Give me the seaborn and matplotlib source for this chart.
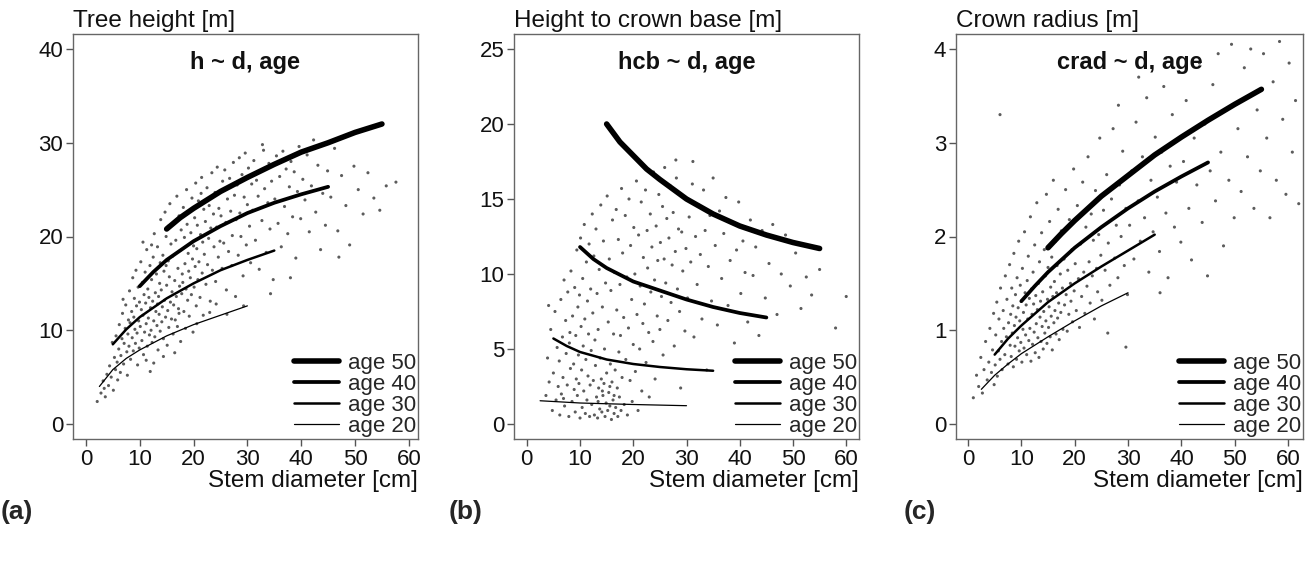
import matplotlib
matplotlib.use('Agg')
import pandas as pd
import matplotlib.pyplot as plt
import seaborn as sns

# Scatter clouds, (diameter, value) pairs
height_pts = [
    (2.1, 2.4), (2.8, 3.3), (3.2, 4.6), (3.6, 2.9), (3.9, 5.3), (3.4, 3.8),
    (4.2, 4.1), (4.4, 6.2), (4.7, 5.0), (4.9, 8.7), (5.1, 3.6), (5.3, 7.1), (5.5, 5.8), (5.6, 9.4), (5.8, 6.6), (5.9, 4.7),
    (6.1, 8.0), (6.2, 10.6), (6.4, 5.5), (6.5, 7.3), (6.7, 9.1), (6.8, 11.8), (7.0, 6.4), (7.1, 8.6), (7.3, 10.2),
    (7.4, 12.7), (7.6, 7.7), (7.7, 5.2), (7.8, 9.6), (7.9, 11.1), (6.9, 13.3),
    (8.0, 8.3), (8.1, 14.2), (8.2, 10.8), (8.3, 6.9), (8.5, 12.0), (8.6, 9.2), (8.7, 15.6), (8.8, 7.8), (8.9, 11.4),
    (9.0, 13.4), (9.1, 10.1), (9.2, 8.6), (9.3, 16.4), (9.4, 12.6), (9.5, 9.7), (9.6, 6.3), (9.7, 14.6), (9.8, 11.0),
    (9.9, 8.1), (9.95, 13.0),
    (10.1, 10.4), (10.2, 17.3), (10.3, 12.2), (10.4, 8.9), (10.5, 15.1), (10.6, 11.6), (10.7, 7.4), (10.8, 13.8),
    (10.9, 9.8), (11.0, 16.2), (11.1, 12.9), (11.2, 10.7), (11.3, 18.6), (11.4, 8.3), (11.5, 14.4), (11.6, 11.3),
    (11.7, 13.5), (11.8, 9.5), (11.9, 16.9), (11.95, 5.6), (10.6, 19.4), (11.2, 6.8),
    (12.0, 12.4), (12.1, 10.0), (12.2, 15.4), (12.3, 8.7), (12.4, 13.1), (12.5, 17.8), (12.6, 11.0), (12.7, 20.3),
    (12.8, 9.3), (12.9, 14.0), (13.0, 12.0), (13.1, 16.0), (13.2, 10.5), (13.3, 18.9), (13.4, 7.9), (13.5, 13.6),
    (13.6, 11.7), (13.7, 15.0), (13.8, 9.9), (13.9, 21.8), (13.3, 12.8), (12.6, 6.5), (13.8, 17.2), (12.2, 19.1),
    (14.0, 14.3), (14.1, 10.9), (14.2, 12.5), (14.3, 18.0), (14.4, 9.1), (14.5, 16.3), (14.6, 13.2), (14.7, 22.6),
    (14.8, 11.4), (14.9, 20.0), (15.0, 14.8), (15.1, 8.4), (15.2, 12.1), (15.3, 17.4), (15.4, 10.3), (15.5, 15.7),
    (15.6, 23.5), (15.7, 13.0), (15.8, 19.2), (15.9, 11.2), (14.4, 7.2), (15.3, 21.1), (14.9, 16.9),
    (16.0, 14.1), (16.1, 17.9), (16.2, 9.6), (16.3, 12.7), (16.4, 21.4), (16.5, 15.3), (16.6, 11.1), (16.7, 19.6),
    (16.8, 13.6), (16.9, 24.3), (17.0, 10.4), (17.1, 16.6), (17.2, 12.3), (17.3, 22.2), (17.4, 14.7), (17.5, 18.5),
    (17.6, 8.8), (17.7, 20.7), (17.8, 13.9), (17.9, 16.0), (16.5, 7.6), (17.3, 11.8),
    (18.0, 15.1), (18.1, 23.1), (18.2, 12.0), (18.3, 19.9), (18.4, 17.1), (18.5, 10.2), (18.6, 14.4), (18.7, 25.0),
    (18.8, 21.3), (18.9, 13.2), (19.0, 18.2), (19.1, 16.3), (19.2, 11.5), (19.3, 22.8), (19.4, 15.6), (19.5, 20.4),
    (19.6, 13.8), (19.7, 24.1), (19.8, 17.6), (19.9, 9.8),
    (20.0, 19.0), (20.1, 14.6), (20.2, 22.0), (20.3, 16.8), (20.4, 25.7), (20.5, 12.6), (20.6, 18.7), (20.7, 21.2),
    (20.8, 15.4), (20.9, 23.8), (21.0, 17.3), (21.2, 13.5), (21.3, 20.2), (21.5, 26.3), (21.6, 16.1), (21.7, 19.4),
    (21.8, 11.6), (21.9, 22.9), (21.4, 24.6), (20.6, 10.7),
    (22.0, 18.1), (22.2, 21.6), (22.3, 14.9), (22.5, 25.2), (22.6, 17.0), (22.8, 19.8), (22.9, 23.3), (23.1, 13.1),
    (23.2, 20.9), (23.4, 26.8), (23.5, 16.4), (23.7, 22.4), (23.8, 18.9), (24.0, 24.7), (24.1, 15.2), (24.3, 21.0),
    (24.4, 27.4), (24.6, 17.8), (24.7, 23.0), (24.9, 19.5), (23.0, 11.9), (24.2, 12.8),
    (25.1, 22.2), (25.3, 16.6), (25.4, 25.9), (25.6, 19.3), (25.8, 27.1), (26.0, 21.5), (26.1, 14.3), (26.3, 24.0),
    (26.5, 18.4), (26.7, 26.2), (26.9, 22.7), (27.1, 16.9), (27.2, 20.1), (27.4, 27.9), (27.6, 24.4), (27.8, 13.6),
    (27.9, 21.8), (26.2, 11.7),
    (28.1, 25.5), (28.3, 18.0), (28.5, 28.4), (28.6, 22.5), (28.8, 20.0), (29.0, 26.6), (29.2, 15.8), (29.4, 24.2),
    (29.6, 28.9), (29.8, 19.1), (30.0, 23.4), (30.2, 27.3), (30.4, 21.1), (30.6, 17.2), (30.8, 25.6), (29.3, 12.6),
    (31.0, 22.8), (31.2, 28.1), (31.5, 19.6), (31.7, 26.0), (32.0, 24.3), (32.2, 16.5), (32.5, 27.0), (32.7, 21.7),
    (33.0, 29.2), (33.2, 25.1), (33.5, 18.3), (33.8, 23.6), (34.0, 27.8), (34.2, 20.8), (34.5, 25.9), (34.8, 15.4),
    (32.8, 29.8), (34.3, 13.9),
    (35.1, 24.0), (35.4, 28.6), (35.7, 21.4), (36.0, 26.4), (36.3, 18.9), (36.6, 29.1), (36.9, 23.2), (37.2, 27.2),
    (37.5, 20.3), (37.8, 25.3), (38.1, 28.0), (38.4, 22.1), (38.7, 26.9), (39.0, 17.7), (39.3, 24.8), (39.6, 29.6),
    (39.9, 21.9), (38.0, 15.6),
    (40.3, 26.1), (40.7, 23.9), (41.1, 28.7), (41.5, 20.5), (41.9, 25.4), (42.3, 30.3), (42.7, 22.6), (43.1, 27.6),
    (43.6, 18.6), (44.0, 24.6), (44.5, 21.2), (44.9, 27.0),
    (45.5, 24.2), (46.2, 29.4), (46.8, 20.6), (47.5, 26.5), (48.3, 23.3), (49.0, 19.1), (49.8, 27.5), (50.6, 25.0),
    (51.5, 22.4), (52.4, 26.8), (53.5, 24.1), (54.6, 22.8), (55.8, 25.4), (57.6, 25.8), (47.0, 17.8),
]

hcb_pts = [
    (3.6, 1.9), (3.9, 4.4), (4.2, 2.8), (4.5, 6.3), (4.8, 0.9), (5.0, 3.4), (5.3, 7.5), (5.5, 1.6), (5.7, 5.1),
    (5.9, 2.5), (4.1, 7.9),
    (6.1, 4.2), (6.2, 0.6), (6.4, 8.3), (6.5, 2.0), (6.7, 5.8), (6.8, 3.1), (7.0, 9.6), (7.1, 1.2), (7.3, 6.9),
    (7.4, 4.7), (7.6, 2.6), (7.7, 8.8), (7.9, 0.5), (8.0, 5.4), (8.2, 3.7), (8.3, 10.2), (8.5, 1.5), (8.6, 7.2),
    (8.8, 4.0), (8.9, 2.3), (6.9, 1.7), (8.1, 6.1),
    (9.0, 9.1), (9.1, 0.8), (9.2, 5.9), (9.3, 3.0), (9.4, 11.6), (9.5, 1.9), (9.6, 7.8), (9.7, 4.6), (9.8, 2.7),
    (9.9, 8.6), (10.0, 0.4), (10.1, 12.4), (10.2, 6.5), (10.3, 3.6), (10.4, 1.1), (10.5, 9.7), (10.6, 5.2),
    (10.7, 2.2), (10.8, 13.3), (10.9, 7.0), (11.0, 0.7), (11.1, 4.3), (11.2, 10.8), (11.3, 1.6), (11.4, 8.2),
    (11.5, 3.2), (11.6, 6.0), (11.7, 12.0), (11.8, 0.5), (11.9, 2.6),
    (12.0, 9.0), (12.1, 4.9), (12.2, 1.3), (12.3, 14.0), (12.4, 7.4), (12.5, 2.9), (12.6, 11.2), (12.7, 0.6),
    (12.8, 5.6), (12.9, 3.9), (13.0, 13.0), (13.1, 1.8), (13.2, 8.7), (13.3, 0.4), (13.4, 6.3), (13.5, 2.4),
    (13.6, 10.3), (13.7, 1.0), (13.8, 4.4), (13.9, 14.6), (14.0, 3.0), (14.1, 0.8), (14.2, 7.8), (14.3, 1.9),
    (14.4, 12.2), (14.5, 2.7), (14.6, 5.0), (14.7, 0.5), (14.8, 9.4), (14.9, 1.4), (14.2, 2.2), (13.4, 1.5),
    (15.0, 3.4), (15.1, 15.2), (15.2, 0.9), (15.3, 6.8), (15.4, 2.1), (15.5, 11.0), (15.6, 1.2), (15.7, 4.0),
    (15.8, 8.9), (15.9, 0.3), (16.0, 2.8), (16.1, 13.6), (16.2, 1.6), (16.3, 6.0), (16.4, 0.7), (16.5, 10.1),
    (16.6, 3.6), (16.7, 1.1), (16.8, 14.3), (16.9, 7.6), (17.0, 2.4), (17.1, 0.5), (17.2, 12.3), (17.3, 4.8),
    (17.4, 1.8), (17.5, 9.3), (17.6, 5.9), (17.7, 0.9), (17.8, 15.7), (17.9, 3.1), (15.6, 2.5), (16.4, 1.9),
    (18.0, 11.4), (18.2, 7.1), (18.3, 1.3), (18.5, 13.9), (18.6, 4.3), (18.8, 9.8), (18.9, 0.6), (19.1, 6.4),
    (19.2, 15.0), (19.4, 2.9), (19.5, 11.9), (19.7, 8.3), (19.8, 1.5), (20.0, 5.3), (20.1, 13.1), (20.3, 10.0),
    (20.4, 3.5), (20.6, 16.2), (20.7, 7.3), (20.9, 0.9), (21.0, 12.6), (21.2, 5.0), (21.3, 9.2), (21.5, 14.8),
    (21.6, 2.2), (21.8, 6.7), (21.9, 11.1),
    (22.1, 8.0), (22.3, 15.6), (22.4, 4.1), (22.6, 12.9), (22.7, 10.4), (22.9, 6.1), (23.0, 1.8), (23.2, 14.0),
    (23.3, 8.8), (23.5, 11.8), (23.7, 5.5), (23.8, 16.8), (24.0, 9.6), (24.1, 3.0), (24.3, 13.2), (24.5, 7.2),
    (24.6, 10.9), (24.8, 15.3), (25.0, 6.3), (25.1, 12.1), (25.3, 8.5), (25.5, 14.5), (25.6, 4.6), (25.8, 11.0),
    (25.9, 17.1),
    (26.1, 9.4), (26.3, 13.7), (26.5, 6.9), (26.7, 12.4), (26.9, 15.9), (27.1, 8.1), (27.3, 10.6), (27.5, 14.1),
    (27.7, 5.2), (27.9, 11.5), (28.1, 16.4), (28.3, 9.0), (28.5, 13.0), (28.7, 7.5), (28.9, 2.4), (29.1, 12.8),
    (29.3, 10.2), (29.5, 15.1), (29.7, 6.2), (29.9, 11.7), (28.0, 17.6),
    (30.2, 8.4), (30.5, 13.8), (30.8, 10.8), (31.1, 16.0), (31.4, 5.8), (31.7, 12.5), (32.0, 9.3), (32.3, 14.6),
    (32.6, 11.3), (32.9, 7.0), (33.2, 15.6), (33.5, 12.9), (33.8, 3.6), (34.1, 10.5), (34.4, 13.9), (34.7, 8.2),
    (35.0, 16.4), (31.2, 17.5),
    (35.4, 11.9), (35.8, 6.6), (36.2, 14.2), (36.6, 9.7), (37.0, 12.7), (37.4, 15.1), (37.8, 7.9), (38.2, 10.9),
    (38.6, 13.4), (39.0, 5.4), (39.4, 11.6), (39.8, 14.8), (40.2, 8.7), (40.6, 12.2), (41.0, 10.1), (41.5, 6.8),
    (42.0, 13.6),
    (42.5, 9.9), (43.0, 11.8), (43.6, 5.9), (44.2, 12.9), (44.8, 8.4), (45.5, 10.7), (46.2, 13.3), (47.0, 7.3),
    (47.8, 10.0), (48.6, 12.6), (49.5, 9.2), (50.5, 11.4), (51.5, 7.7), (52.5, 9.8), (53.5, 8.6), (55.0, 10.3),
    (58.0, 6.4), (60.0, 8.5),
]

crad_pts = [
    (1.0, 0.28), (1.6, 0.52), (2.0, 0.40), (2.4, 0.71), (2.7, 0.33), (3.0, 0.58), (3.3, 0.88), (3.6, 0.47),
    (3.9, 0.66), (4.1, 1.02), (4.4, 0.55), (4.6, 0.79), (4.8, 1.18), (4.9, 0.42),
    (5.1, 0.63), (5.2, 0.95), (5.4, 1.30), (5.5, 0.51), (5.7, 0.78), (5.8, 1.12), (6.0, 0.69), (6.1, 1.45),
    (6.3, 0.88), (6.4, 0.58), (6.6, 1.21), (6.7, 1.02), (6.9, 0.74), (7.0, 1.58), (7.2, 0.93), (7.3, 1.33),
    (7.5, 0.64), (7.6, 1.08), (7.8, 1.70), (7.9, 0.84), (6.0, 3.30),
    (8.0, 1.17), (8.1, 0.72), (8.2, 1.45), (8.3, 0.97), (8.4, 1.26), (8.5, 0.61), (8.6, 1.82), (8.7, 1.05),
    (8.8, 0.83), (8.9, 1.38), (9.0, 1.14), (9.1, 0.69), (9.2, 1.56), (9.3, 0.92), (9.4, 1.24), (9.5, 1.95),
    (9.6, 0.78), (9.7, 1.10), (9.8, 1.48), (9.9, 0.87), (10.0, 1.31), (10.1, 0.66), (10.2, 1.66), (10.3, 1.01),
    (10.4, 1.19), (10.5, 0.81), (10.6, 2.05), (10.7, 1.40), (10.8, 0.95), (10.9, 1.27),
    (11.0, 0.74), (11.1, 1.53), (11.2, 1.12), (11.3, 1.79), (11.4, 0.89), (11.5, 1.34), (11.6, 1.02), (11.7, 2.21),
    (11.8, 0.67), (11.9, 1.44), (12.0, 1.17), (12.1, 0.85), (12.2, 1.62), (12.3, 1.28), (12.4, 0.98), (12.5, 1.91),
    (12.6, 0.76), (12.7, 1.37), (12.8, 1.07), (12.9, 2.36), (13.0, 1.22), (13.1, 0.92), (13.2, 1.50), (13.3, 0.71),
    (13.4, 1.73), (13.5, 1.14), (13.6, 1.31), (13.7, 0.88), (13.8, 2.04), (13.9, 1.04),
    (14.0, 1.41), (14.1, 0.80), (14.2, 1.20), (14.3, 1.86), (14.4, 0.97), (14.5, 1.58), (14.6, 1.10), (14.7, 2.45),
    (14.8, 0.86), (14.9, 1.33), (15.0, 1.67), (15.1, 1.03), (15.2, 1.25), (15.3, 2.16), (15.4, 0.93), (15.5, 1.46),
    (15.6, 1.15), (15.7, 1.78), (15.8, 0.79), (15.9, 1.36), (16.0, 2.60), (16.1, 1.08), (16.2, 1.52), (16.3, 1.21),
    (16.4, 1.95), (16.5, 0.96), (16.6, 1.40), (16.7, 1.69), (16.8, 1.13), (16.9, 2.29),
    (17.0, 1.29), (17.1, 0.90), (17.3, 1.60), (17.4, 1.19), (17.5, 2.06), (17.7, 1.45), (17.8, 1.01), (18.0, 1.76),
    (18.1, 1.27), (18.3, 2.50), (18.4, 1.38), (18.6, 0.99), (18.7, 1.64), (18.9, 1.17), (19.0, 2.18), (19.2, 1.50),
    (19.3, 1.31), (19.5, 1.86), (19.6, 1.09), (19.8, 2.72), (19.9, 1.42),
    (20.1, 1.71), (20.3, 1.21), (20.5, 2.33), (20.7, 1.55), (20.9, 1.03), (21.1, 1.92), (21.3, 1.36), (21.5, 2.58),
    (21.7, 1.62), (21.9, 1.18), (22.1, 2.10), (22.3, 1.47), (22.5, 2.85), (22.7, 1.73), (22.9, 1.29), (23.1, 2.24),
    (23.3, 1.58), (23.5, 1.96), (23.7, 1.12), (23.9, 2.49), (24.1, 1.66), (24.3, 1.41), (24.5, 2.02), (24.7, 3.05),
    (24.9, 1.80),
    (25.1, 1.32), (25.4, 2.28), (25.7, 1.64), (26.0, 2.66), (26.3, 1.93), (26.6, 1.48), (26.9, 2.40), (27.2, 3.15),
    (27.5, 1.77), (27.8, 2.12), (28.1, 1.56), (28.4, 2.55), (28.7, 2.00), (29.0, 2.91), (29.3, 1.69), (29.6, 2.30),
    (29.9, 1.38), (28.2, 3.40), (26.2, 0.97), (29.6, 0.82),
    (30.3, 2.12), (30.7, 2.70), (31.1, 1.76), (31.5, 3.22), (31.9, 2.38), (32.3, 1.95), (32.7, 2.85), (33.1, 2.20),
    (33.5, 3.48), (33.9, 1.62), (34.3, 2.60), (34.7, 2.05), (35.1, 3.06), (35.5, 2.42), (35.9, 1.84), (36.3, 2.90),
    (36.7, 3.60), (37.1, 2.25), (37.5, 1.56), (37.9, 2.75), (38.3, 3.30), (38.7, 2.10), (39.1, 2.58), (39.5, 3.75),
    (39.9, 1.94), (32.0, 3.70), (36.0, 1.40),
    (40.4, 2.80), (40.9, 3.45), (41.4, 2.30), (41.9, 1.75), (42.4, 3.05), (42.9, 2.55), (43.4, 3.85), (43.9, 2.15),
    (44.4, 3.20), (44.9, 1.58), (45.4, 2.70), (45.9, 3.62), (46.4, 2.38), (46.9, 3.95), (47.4, 2.90), (47.9, 1.90),
    (48.4, 3.35), (48.9, 2.60), (49.4, 4.05), (49.9, 2.20),
    (50.6, 3.15), (51.2, 2.48), (51.8, 3.80), (52.4, 2.85), (53.0, 4.00), (53.6, 2.30), (54.2, 3.35), (54.8, 2.70),
    (55.4, 3.95), (56.0, 3.05), (56.6, 2.20), (57.2, 3.65), (57.8, 2.60), (58.4, 4.08), (59.0, 3.25), (59.6, 2.45),
    (60.2, 3.85), (60.8, 2.90), (61.4, 3.45), (62.0, 2.35),
]

# Fitted curves per age
ages = [50, 40, 30, 20]
h_curve_d = {50: [15, 17.5, 20, 25, 30, 35, 40, 45, 50, 55], 40: [10, 12.5, 15, 20, 25, 30, 35, 40, 45],
             30: [5, 7.5, 10, 15, 20, 25, 30, 35], 20: [2.5, 5, 7.5, 10, 15, 20, 25, 30]}
h_curve = {50: [20.8, 22.0, 23.0, 24.8, 26.3, 27.7, 29.0, 30.0, 31.1, 32.0],
           40: [14.7, 16.2, 17.5, 19.5, 21.1, 22.5, 23.6, 24.5, 25.3],
           30: [8.5, 10.1, 11.4, 13.4, 15.0, 16.4, 17.5, 18.5],
           20: [4.0, 5.8, 7.0, 7.9, 9.4, 10.6, 11.6, 12.6]}
b_curve_d = {50: [15, 17.5, 20, 22.5, 25, 30, 35, 40, 45, 50, 55], 40: [10, 12.5, 15, 20, 25, 30, 35, 40, 45],
             30: [5, 7.5, 10, 15, 20, 25, 30, 35], 20: [2.5, 10, 20, 30]}
b_curve = {50: [20.0, 18.8, 17.9, 17.0, 16.3, 15.0, 14.0, 13.2, 12.6, 12.1, 11.7],
           40: [11.8, 11.0, 10.4, 9.5, 8.9, 8.3, 7.8, 7.4, 7.1],
           30: [5.7, 5.2, 4.8, 4.3, 4.0, 3.8, 3.65, 3.55],
           20: [1.55, 1.4, 1.3, 1.22]}
c_curve_d = h_curve_d
c_curve = {50: [1.88, 2.03, 2.17, 2.43, 2.65, 2.87, 3.06, 3.24, 3.41, 3.57],
           40: [1.31, 1.47, 1.62, 1.88, 2.10, 2.30, 2.48, 2.64, 2.79],
           30: [0.74, 0.91, 1.05, 1.30, 1.50, 1.68, 1.85, 2.02],
           20: [0.37, 0.52, 0.64, 0.75, 0.93, 1.10, 1.26, 1.40]}

widths = {50: 4.0, 40: 2.7, 30: 1.8, 20: 0.9}

sns.set_style('ticks')
plt.rcParams['font.family'] = ['Liberation Sans', 'DejaVu Sans']

fig = plt.figure(figsize=(13.13, 5.69), dpi=100)

panels = [
    dict(pos=[73, 345], pts=height_pts, cd=h_curve_d, cy=h_curve, xlim=(-2.4, 61.7), ylim=(-1.6, 41.6),
         yticks=[0, 10, 20, 30, 40], ylab='Tree height [m]', title='h ~ d, age', tag='(a)', tagx=1),
    dict(pos=[514, 345], pts=hcb_pts, cd=b_curve_d, cy=b_curve, xlim=(-2.4, 62.4), ylim=(-1.0, 26.0),
         yticks=[0, 5, 10, 15, 20, 25], ylab='Height to crown base [m]', title='hcb ~ d, age', tag='(b)', tagx=449),
    dict(pos=[956, 347], pts=crad_pts, cd=c_curve_d, cy=c_curve, xlim=(-2.25, 62.8), ylim=(-0.16, 4.16),
         yticks=[0, 1, 2, 3, 4], ylab='Crown radius [m]', title='crad ~ d, age', tag='(c)', tagx=904),
]

W, H = 1313, 569
for p in panels:
    left, width = p['pos']
    ax = fig.add_axes([left / W, (H - 439) / H, width / W, 405 / H])
    df = pd.DataFrame(p['pts'], columns=['d', 'y'])
    sns.scatterplot(data=df, x='d', y='y', ax=ax, s=5, color='#333333', edgecolor='none', alpha=0.8, legend=False)
    for a in ages:
        sns.lineplot(x=p['cd'][a], y=p['cy'][a], ax=ax, color='black', lw=widths[a],
                     label=f'age {a}', solid_capstyle='round')
    ax.set_xlim(*p['xlim'])
    ax.set_ylim(*p['ylim'])
    ax.set_xticks([0, 10, 20, 30, 40, 50, 60])
    ax.set_yticks(p['yticks'])
    ax.tick_params(labelsize=16, length=5, width=1, color='#555555', pad=2, labelcolor='#111111')
    for s in ax.spines.values():
        s.set_color('#666666')
        s.set_linewidth(1.0)
    ax.text(0, 1.005, p['ylab'], transform=ax.transAxes, ha='left', va='bottom', fontsize=17.5, color='#111111')
    ax.text(0.5, 0.93, p['title'], transform=ax.transAxes, ha='center', va='center',
            fontsize=17, fontweight='bold', color='#111111')
    ax.set_xlabel('')
    ax.set_ylabel('')
    ax.text(1.0, -0.077, 'Stem diameter [cm]', transform=ax.transAxes, ha='right', va='top',
            fontsize=17.5, color='#111111')
    ax.legend(loc='lower right', frameon=False, fontsize=16, handlelength=2.0,
              labelspacing=0.0, borderaxespad=0.1, borderpad=0.0, handletextpad=0.4)
    fig.text(p['tagx'] / W, (H - 512) / H, p['tag'], fontsize=19, fontweight='bold', va='center', ha='left')

fig.savefig('out.png', dpi=100)
